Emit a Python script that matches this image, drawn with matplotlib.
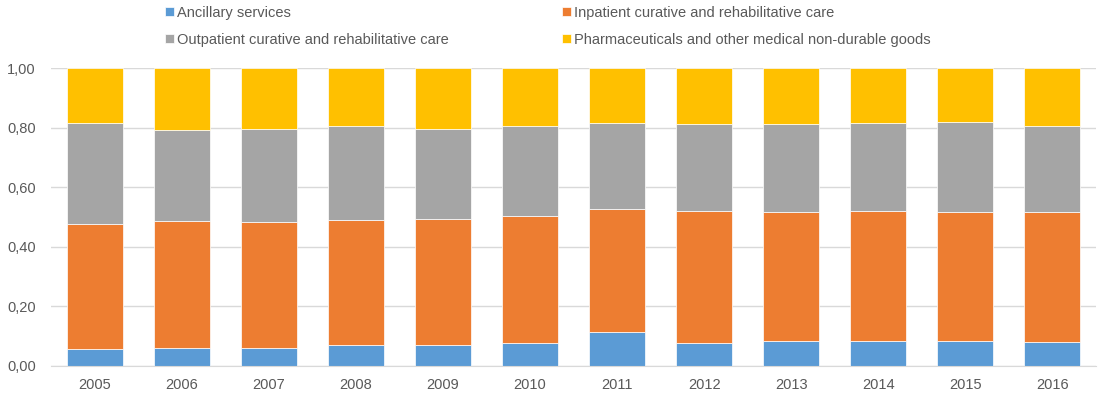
import numpy as np
import matplotlib.pyplot as plt

plt.rcParams['font.family'] = ['Liberation Sans', 'DejaVu Sans']

years = ["2005", "2006", "2007", "2008", "2009", "2010",
         "2011", "2012", "2013", "2014", "2015", "2016"]

# cumulative boundaries, converted to shares
ancillary = [0.056, 0.060, 0.060, 0.071, 0.071, 0.075,
             0.114, 0.075, 0.082, 0.082, 0.082, 0.079]
inpatient_top = [0.476, 0.486, 0.482, 0.489, 0.492, 0.502,
                 0.527, 0.520, 0.517, 0.520, 0.517, 0.517]
outpatient_top = [0.815, 0.794, 0.797, 0.805, 0.797, 0.805,
                  0.815, 0.812, 0.812, 0.815, 0.818, 0.805]

ancillary = np.array(ancillary)
inpatient = np.array(inpatient_top) - ancillary
outpatient = np.array(outpatient_top) - np.array(inpatient_top)
pharma = 1.0 - np.array(outpatient_top)

labels = ["Ancillary services",
          "Inpatient curative and rehabilitative care",
          "Outpatient curative and rehabilitative care",
          "Pharmaceuticals and other medical non-durable goods"]
colors = ["#5B9BD5", "#ED7D31", "#A5A5A5", "#FFC000"]

fig = plt.figure(figsize=(11.01, 3.96), dpi=100)
ax = fig.add_axes([51 / 1101, 30.3 / 396, 1045 / 1101, 297.4 / 396])

x = np.arange(len(years))
w = 0.643
bottom = np.zeros(len(years))
bars = []
for vals, c, l in zip([ancillary, inpatient, outpatient, pharma], colors, labels):
    b = ax.bar(x, vals, w, bottom=bottom, color=c, label=l,
               edgecolor="white", linewidth=0.5, zorder=3)
    bars.append(b)
    bottom = bottom + vals

ax.set_xlim(-0.5, len(years) - 0.5)
ax.set_ylim(0, 1.0)
ax.set_yticks(np.arange(0, 1.01, 0.2))
ax.set_yticklabels([("%.2f" % v).replace(".", ",") for v in np.arange(0, 1.01, 0.2)])
ax.set_xticks(x)
ax.set_xticklabels(years)
ax.tick_params(length=0, colors="#595959", labelsize=10.5)
ax.tick_params(axis="x", pad=9)
ax.tick_params(axis="y", pad=11)
ax.grid(axis="y", color="#D9D9D9", linewidth=1, zorder=0)
for s in ["top", "right", "left"]:
    ax.spines[s].set_visible(False)
ax.spines["bottom"].set_color("#D9D9D9")
ax.spines["bottom"].set_zorder(4)

# legend order in picture: row1 = ancillary, inpatient ; row2 = outpatient, pharma
h = [bars[0], bars[2], bars[1], bars[3]]
lab = [labels[0], labels[2], labels[1], labels[3]]
leg = fig.legend(h, lab, ncol=2, loc="upper left",
                 bbox_to_anchor=(159 / 1101, 1.0), frameon=False,
                 fontsize=10.5, handlelength=0.6, handleheight=0.6,
                 handletextpad=0.25, columnspacing=7.75, labelspacing=0.9,
                 borderaxespad=0.0)
for t in leg.get_texts():
    t.set_color("#595959")

fig.savefig("out.png", dpi=100)
